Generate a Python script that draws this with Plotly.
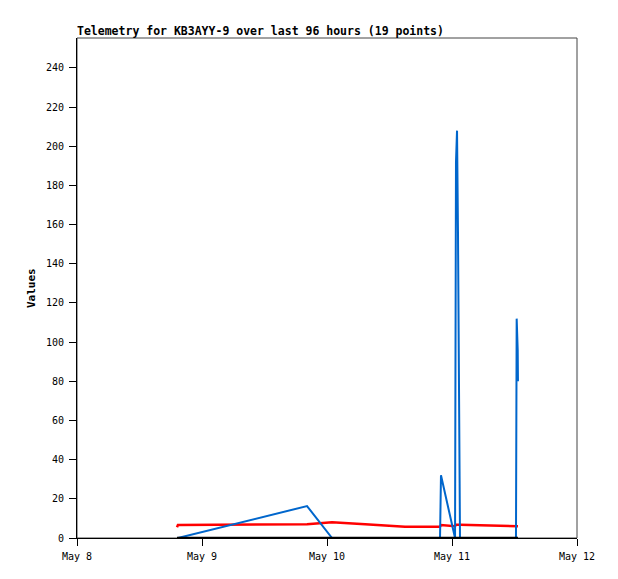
import plotly.graph_objects as go

# Timestamps of the 19 telemetry points
times = [
    "2024-05-08 19:12", "2024-05-08 19:23", "2024-05-09 20:10", "2024-05-10 00:58",
    "2024-05-10 07:20", "2024-05-10 14:59", "2024-05-10 21:42", "2024-05-10 21:53",
    "2024-05-11 00:35", "2024-05-11 00:46", "2024-05-11 00:58", "2024-05-11 01:09",
    "2024-05-11 01:20", "2024-05-11 01:32", "2024-05-11 07:18", "2024-05-11 12:17",
    "2024-05-11 12:25", "2024-05-11 12:37", "2024-05-11 12:40",
]
blue_vals = [0, 0, 16.3, 0, 0, 0, 0, 32, 0, 192, 208, 156, 52, 0, 0, 0, 112, 96, 80]
red_vals = [5.5, 6.7, 7.0, 8.0, 7.0, 5.8, 5.8, 6.6, 6.0, 6.8, 6.8, 6.8, 6.8, 6.8, 6.4, 6.0, 6.0, 6.0, 6.0]
black_vals = [0] * 19

x_ticks = ["2024-05-08", "2024-05-09", "2024-05-10", "2024-05-11", "2024-05-12"]
x_tick_labels = ["May 8", "May 9", "May 10", "May 11", "May 12"]
y_ticks = list(range(0, 241, 20))
title_text = "Telemetry for KB3AYY-9 over last 96 hours (19 points)"

FONT = "DejaVu Sans Mono"
W, H = 610, 571  # page body has an 8px margin

fig = go.Figure()
fig.add_trace(go.Scatter(x=times, y=red_vals, mode="lines",
                         line=dict(color="#ff0000", width=2.5), hoverinfo="skip"))
fig.add_trace(go.Scatter(x=times, y=blue_vals, mode="lines",
                         line=dict(color="#0066cc", width=2), hoverinfo="skip"))
fig.add_trace(go.Scatter(x=times, y=black_vals, mode="lines",
                         line=dict(color="#000000", width=2.5), hoverinfo="skip"))

fig.update_layout(
    width=W, height=H,
    margin=dict(l=69, r=41, t=30, b=41),
    paper_bgcolor="white", plot_bgcolor="white",
    showlegend=False,
    font=dict(family=FONT, size=10, color="black"),
    title=dict(text="<b>" + title_text + "</b>", x=69 / W, xanchor="left",
               xref="container", yref="container", y=1 - 23 / H, yanchor="middle",
               font=dict(family=FONT, size=11.5, color="black")),
    xaxis=dict(type="date", range=["2024-05-08", "2024-05-12"],
               tickvals=x_ticks, ticktext=x_tick_labels,
               ticks="outside", ticklen=7, tickcolor="black", tickwidth=1,
               ticklabelstandoff=2,
               showgrid=False, zeroline=False, showline=True, linecolor="black", linewidth=1,
               tickfont=dict(family=FONT, size=10, color="black")),
    yaxis=dict(range=[0, 255.3], tickvals=y_ticks,
               ticks="outside", ticklen=7, tickcolor="black", tickwidth=1,
               ticklabelstandoff=3,
               showgrid=False, zeroline=False, showline=True, linecolor="black", linewidth=1,
               tickfont=dict(family=FONT, size=10, color="black")),
    shapes=[dict(type="rect", xref="paper", yref="paper", x0=0, x1=1, y0=0, y1=1,
                 line=dict(color="#444444", width=1), layer="below")],
    annotations=[dict(text="<b>Values</b>", xref="paper", yref="paper",
                      x=-(77 - 31) / 500, y=0.5, xanchor="center", yanchor="middle",
                      textangle=-90, showarrow=False,
                      font=dict(family=FONT, size=11, color="black"))],
)

fig.write_html("out.html", config={"displayModeBar": False})
